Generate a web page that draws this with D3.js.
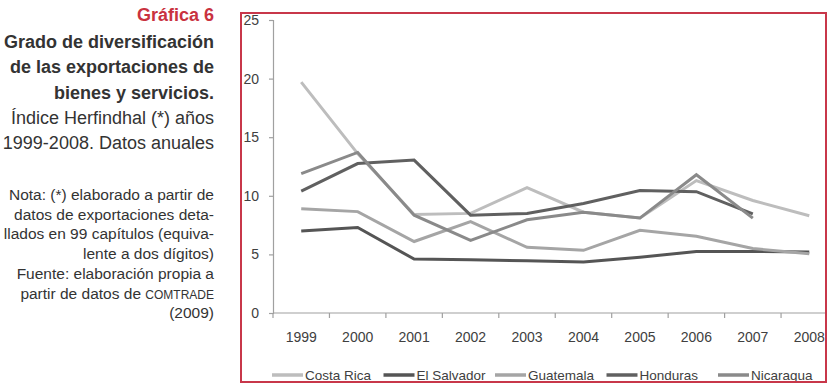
<!DOCTYPE html>
<html>
<head>
<meta charset="utf-8">
<script src="https://cdn.jsdelivr.net/npm/d3@7"></script>
<style>
	body { margin: 0; background: #fff; }
	svg { display: block; font-family: 'Liberation Sans', Arial, sans-serif; }
</style>
</head>
<body>
<svg id="chart"></svg>
<script>
const years = ['1999', '2000', '2001', '2002', '2003', '2004', '2005', '2006', '2007', '2008'];
const seriesNames = ['Costa Rica', 'El Salvador', 'Guatemala', 'Honduras', 'Nicaragua'];
const costaRica = [19.7, 13.6, 8.4, 8.5, 10.7, 8.6, 8.1, 11.3, 9.6, 8.3];
const elSalvador = [7.0, 7.3, 4.6, 4.55, 4.45, 4.35, 4.75, 5.25, 5.25, 5.2];
const guatemala = [8.9, 8.65, 6.1, 7.8, 5.6, 5.35, 7.05, 6.55, 5.5, 5.05];
const honduras = [10.4, 12.75, 13.05, 8.35, 8.5, 9.35, 10.45, 10.35, 8.45, null];
const nicaragua = [11.9, 13.7, 8.35, 6.2, 7.95, 8.6, 8.1, 11.8, 8.1, null];
const yTicks = [0, 5, 10, 15, 20, 25];

const titleLines = ['Grado de diversificación', 'de las exportaciones de', 'bienes y servicios.'];
const subtitleLines = ['Índice Herfindhal (*) años', '1999-2008. Datos anuales'];
const noteLines = ['Nota: (*) elaborado a partir de', 'datos de exportaciones deta-', 'llados en 99 capítulos (equiva-',
	'lente a dos dígitos)', 'Fuente: elaboración propia a', 'partir de datos de |COMTRADE', '(2009)'];

const seriesValues = [costaRica, elSalvador, guatemala, honduras, nicaragua];
const colors = { 'Costa Rica': '#bdbdbd', 'El Salvador': '#555555', 'Guatemala': '#a5a5a5', 'Honduras': '#606060', 'Nicaragua': '#8a8a8a' };

const svg = d3.select('#chart')
	.attr('width', 831)
	.attr('height', 390);

// left text block
const textX = 214;
svg.append('text')
	.attr('x', textX).attr('y', 21)
	.attr('text-anchor', 'end')
	.attr('font-size', 18).attr('font-weight', 'bold')
	.attr('fill', '#c9323f')
	.text('Gráfica 6');

titleLines.forEach((line, i) => {
	svg.append('text')
		.attr('x', textX).attr('y', 48 + i * 25.3)
		.attr('text-anchor', 'end')
		.attr('font-size', 18).attr('font-weight', 'bold')
		.attr('fill', '#333')
		.text(line);
});
subtitleLines.forEach((line, i) => {
	svg.append('text')
		.attr('x', textX).attr('y', 124 + i * 25.3)
		.attr('text-anchor', 'end')
		.attr('font-size', 18)
		.attr('fill', '#333')
		.text(line);
});
noteLines.forEach((line, i) => {
	const t = svg.append('text')
		.attr('x', textX).attr('y', 200 + i * 19.7)
		.attr('text-anchor', 'end')
		.attr('font-size', 15.5)
		.attr('fill', '#333');
	const parts = line.split('|');
	t.append('tspan').text(parts[0]);
	if (parts[1]) t.append('tspan').attr('font-size', 12).text(parts[1]);
});

// red frame
const frame = { x: 241, y: 13, w: 585, h: 369 };
svg.append('clipPath').attr('id', 'frame-clip')
	.append('rect')
	.attr('x', frame.x).attr('y', frame.y).attr('width', frame.w).attr('height', frame.h);

const plot = svg.append('g').attr('clip-path', 'url(#frame-clip)');

const x = d3.scaleBand()
	.domain(years).range([273, 273 + 56.45 * years.length]);
const y = d3.scaleLinear()
	.domain([0, 25]).range([313, 20]);
const xc = d => x(d) + x.bandwidth() / 2;

// y axis
const yAxis = plot.append('g')
	.attr('transform', 'translate(273,0)')
	.call(d3.axisLeft(y).tickValues(yTicks).tickSize(4).tickPadding(10));
yAxis.select('.domain').attr('stroke', '#a0a0a0').attr('stroke-width', 1.2);
yAxis.selectAll('.tick line').attr('stroke', '#a0a0a0').attr('stroke-width', 1.2);
yAxis.selectAll('.tick text')
	.attr('font-family', "'Liberation Sans', Arial, sans-serif")
	.attr('font-size', 14).attr('fill', '#404040');

// x axis: ticks on category edges, labels on centres
plot.append('line')
	.attr('x1', x.range()[0]).attr('x2', x.range()[1])
	.attr('y1', y(0)).attr('y2', y(0))
	.attr('stroke', '#a0a0a0').attr('stroke-width', 1.2);
plot.selectAll('line.xtick').data(years.concat(['end']))
	.enter().append('line')
	.attr('class', 'xtick')
	.attr('x1', d => d === 'end' ? x.range()[1] : x(d))
	.attr('x2', d => d === 'end' ? x.range()[1] : x(d))
	.attr('y1', y(0)).attr('y2', y(0) + 5)
	.attr('stroke', '#a0a0a0').attr('stroke-width', 1.2);
plot.selectAll('text.xlabel').data(years)
	.enter().append('text')
	.attr('class', 'xlabel')
	.attr('x', d => xc(d)).attr('y', 342)
	.attr('text-anchor', 'middle')
	.attr('font-size', 14).attr('fill', '#404040')
	.text(d => d);

// series lines
const line = d3.line()
	.defined(d => d.value != null)
	.x(d => xc(d.year))
	.y(d => y(d.value));

seriesNames.forEach((name, i) => {
	const data = years.map((year, j) => ({ year: year, value: seriesValues[i][j] }));
	plot.append('path').datum(data)
		.attr('d', line)
		.attr('fill', 'none')
		.attr('stroke', colors[name])
		.attr('stroke-width', 3);
});

// legend, spread across the bottom of the frame
const legendX = d3.scalePoint()
	.domain(seriesNames).range([272, 718]);
const legend = svg.append('g');
seriesNames.forEach(name => {
	const lx = legendX(name);
	legend.append('line')
		.attr('x1', lx).attr('x2', lx + 31)
		.attr('y1', 375).attr('y2', 375)
		.attr('stroke', colors[name]).attr('stroke-width', 3.5);
	legend.append('text')
		.attr('x', lx + 33).attr('y', 379.5)
		.attr('font-size', 13.5).attr('fill', '#404040')
		.text(name);
});

svg.append('rect')
	.attr('x', frame.x).attr('y', frame.y).attr('width', frame.w).attr('height', frame.h)
	.attr('fill', 'none')
	.attr('stroke', '#c8374a').attr('stroke-width', 2);
</script>
</body>
</html>
